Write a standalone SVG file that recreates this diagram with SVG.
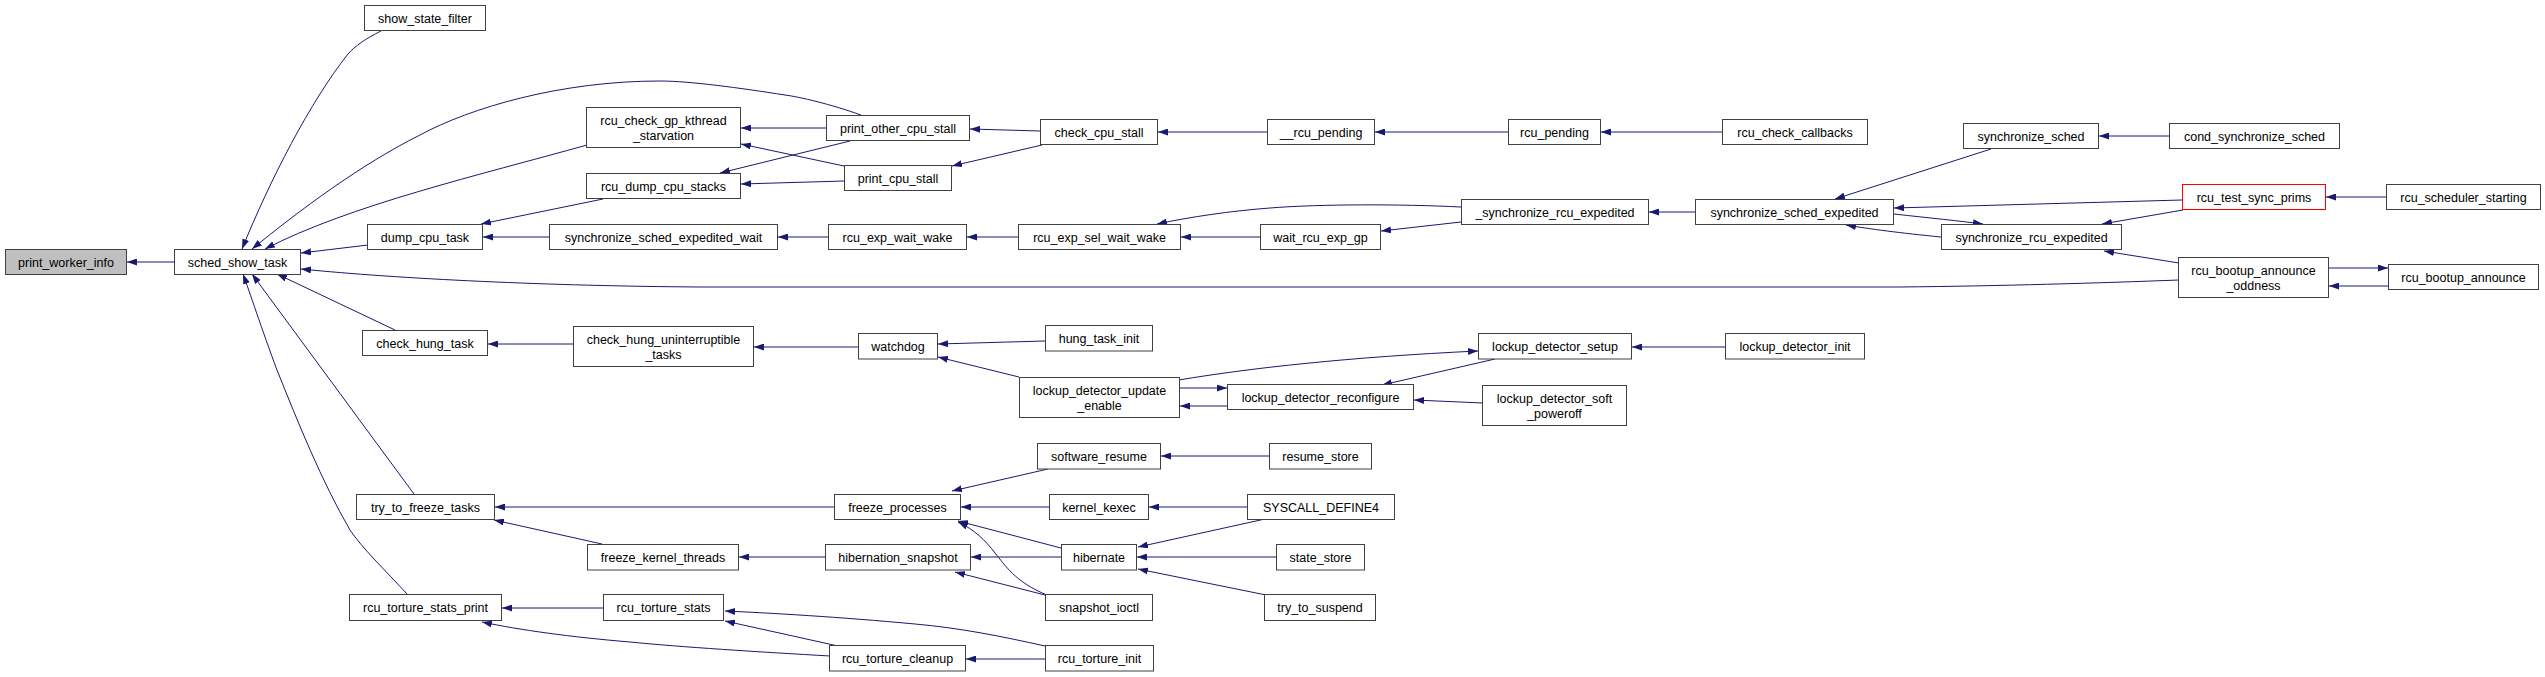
<svg xmlns="http://www.w3.org/2000/svg" width="2545" height="677" viewBox="0 0 2545 677">
<style>
.n rect{fill:#fff;stroke:#404040;stroke-width:1}
.n text{font-family:"Liberation Sans",Arial,sans-serif;font-size:12.5px;text-anchor:middle;fill:#000}
.e path{fill:none;stroke:#191970;stroke-width:1;marker-end:url(#ah)}
</style>
<defs>
<marker id="ah" markerUnits="userSpaceOnUse" viewBox="0 0 10 7" markerWidth="10" markerHeight="7" refX="10" refY="3.5" orient="auto">
<path d="M0,0 L10,3.5 L0,7 z" fill="#191970"/>
</marker>
</defs>
<rect width="2545" height="677" fill="#fff"/>
<g id="connectors" class="e">
<path d="M174,262 L127,262"/>
<path d="M381,31 C365,39 355,46 348,54 C310,102 270,180 242,249"/>
<path d="M861,115 C830,104 800,97 785,95 C740,88 690,81 660,81 C560,81 470,108 420,135 C360,165 300,210 252,249"/>
<path d="M587,145 C480,175 350,205 265,249"/>
<path d="M368,245 L301,253"/>
<path d="M2179,280 C2100,283 2000,286 1900,287 L700,287 C550,286 400,279 301,269"/>
<path d="M395,330 L277,274"/>
<path d="M414,494 L252,274"/>
<path d="M408,595 C385,570 362,548 350,530 C322,482 297,420 277,370 C262,330 249,290 243,274"/>
<path d="M603,199 L481,224"/>
<path d="M549,237 L483,237"/>
<path d="M826,128 L741,128"/>
<path d="M844,166 L741,144"/>
<path d="M850,141 L720,173"/>
<path d="M844,181 L741,184"/>
<path d="M1040,131 L970,129"/>
<path d="M1042,145 L952,166"/>
<path d="M1267,132 L1158,132"/>
<path d="M1508,132 L1375,132"/>
<path d="M1722,132 L1601,132"/>
<path d="M828,237 L778,237"/>
<path d="M1018,237 L967,237"/>
<path d="M1260,237 L1181,237"/>
<path d="M1461,207 C1400,204 1320,204 1270,208 C1230,211 1190,217 1157,224"/>
<path d="M1461,222 L1381,231"/>
<path d="M1695,212 L1649,212"/>
<path d="M1991,149 L1835,199"/>
<path d="M2182,200 L1894,208"/>
<path d="M1941,237 C1900,233 1870,229 1846,225"/>
<path d="M1894,214 C1930,218 1960,221 1983,224"/>
<path d="M2183,210 L2102,224"/>
<path d="M2179,263 L2104,251"/>
<path d="M2386,197 L2326,197"/>
<path d="M2169,136 L2099,136"/>
<path d="M2388,286 L2329,286"/>
<path d="M2329,268 L2388,268"/>
<path d="M573,344 L488,344"/>
<path d="M858,347 L754,347"/>
<path d="M1045,341 L938,344"/>
<path d="M1019,377 L938,357"/>
<path d="M1180,388 L1227,388"/>
<path d="M1227,406 L1180,406"/>
<path d="M1179,380 C1250,368 1350,357 1478,351"/>
<path d="M1495,359 L1382,385"/>
<path d="M1725,347 L1632,347"/>
<path d="M1483,403 L1414,400"/>
<path d="M835,507 L495,507"/>
<path d="M602,544 L494,520"/>
<path d="M825,557 L739,557"/>
<path d="M1048,469 L952,491"/>
<path d="M1049,507 L961,507"/>
<path d="M1061,548 L958,521"/>
<path d="M1047,595 C1015,582 1005,565 995,553 C985,540 975,530 958,522"/>
<path d="M1061,557 L971,557"/>
<path d="M1045,595 L955,572"/>
<path d="M1269,456 L1161,456"/>
<path d="M1247,507 L1149,507"/>
<path d="M1265,519 L1138,547"/>
<path d="M1276,557 L1137,557"/>
<path d="M1266,595 L1138,569"/>
<path d="M603,608 L502,608"/>
<path d="M830,656 C760,652 680,647 630,642 C570,637 520,630 482,622"/>
<path d="M838,646 L725,621"/>
<path d="M1045,646 C1000,636 960,628 915,624 C840,617 770,613 725,611"/>
<path d="M1045,659 L966,659"/>
</g>
<g id="print_worker_info" class="n"><rect x="5.5" y="249.5" width="121" height="25" style="fill:#bfbfbf"/><text x="66" y="266.5">print_worker_info</text></g>
<g id="sched_show_task" class="n"><rect x="174.5" y="249.5" width="126" height="25"/><text x="237.5" y="266.5">sched_show_task</text></g>
<g id="show_state_filter" class="n"><rect x="364.5" y="5.5" width="121" height="25"/><text x="425" y="22.5">show_state_filter</text></g>
<g id="rcu_check_gp_kthread_starvation" class="n"><rect x="586.5" y="107.5" width="154" height="40"/><text x="663.5" y="124.5">rcu_check_gp_kthread</text><text x="663.5" y="139.5">_starvation</text></g>
<g id="rcu_dump_cpu_stacks" class="n"><rect x="586.5" y="173.5" width="154" height="25"/><text x="663.5" y="190.5">rcu_dump_cpu_stacks</text></g>
<g id="dump_cpu_task" class="n"><rect x="367.5" y="224.5" width="115" height="25"/><text x="425" y="241.5">dump_cpu_task</text></g>
<g id="synchronize_sched_expedited_wait" class="n"><rect x="549.5" y="224.5" width="228" height="25"/><text x="663.5" y="241.5">synchronize_sched_expedited_wait</text></g>
<g id="print_other_cpu_stall" class="n"><rect x="826.5" y="115.5" width="143" height="25"/><text x="898" y="132.5">print_other_cpu_stall</text></g>
<g id="print_cpu_stall" class="n"><rect x="844.5" y="165.5" width="107" height="25"/><text x="898" y="182.5">print_cpu_stall</text></g>
<g id="check_cpu_stall" class="n"><rect x="1040.5" y="119.5" width="117" height="25"/><text x="1099" y="136.5">check_cpu_stall</text></g>
<g id="rcu_exp_wait_wake" class="n"><rect x="828.5" y="224.5" width="138" height="25"/><text x="897.5" y="241.5">rcu_exp_wait_wake</text></g>
<g id="rcu_exp_sel_wait_wake" class="n"><rect x="1018.5" y="224.5" width="162" height="25"/><text x="1099.5" y="241.5">rcu_exp_sel_wait_wake</text></g>
<g id="wait_rcu_exp_gp" class="n"><rect x="1260.5" y="224.5" width="120" height="25"/><text x="1320.5" y="241.5">wait_rcu_exp_gp</text></g>
<g id="__rcu_pending" class="n"><rect x="1267.5" y="119.5" width="107" height="25"/><text x="1321" y="136.5">__rcu_pending</text></g>
<g id="rcu_pending" class="n"><rect x="1508.5" y="119.5" width="92" height="25"/><text x="1554.5" y="136.5">rcu_pending</text></g>
<g id="rcu_check_callbacks" class="n"><rect x="1722.5" y="119.5" width="145" height="25"/><text x="1795" y="136.5">rcu_check_callbacks</text></g>
<g id="_synchronize_rcu_expedited" class="n"><rect x="1461.5" y="199.5" width="187" height="25"/><text x="1555" y="216.5">_synchronize_rcu_expedited</text></g>
<g id="synchronize_sched_expedited" class="n"><rect x="1695.5" y="199.5" width="198" height="25"/><text x="1794.5" y="216.5">synchronize_sched_expedited</text></g>
<g id="synchronize_sched" class="n"><rect x="1963.5" y="123.5" width="135" height="25"/><text x="2031" y="140.5">synchronize_sched</text></g>
<g id="cond_synchronize_sched" class="n"><rect x="2169.5" y="123.5" width="170" height="25"/><text x="2254.5" y="140.5">cond_synchronize_sched</text></g>
<g id="rcu_test_sync_prims" class="n"><rect x="2182.5" y="184.5" width="143" height="25" style="stroke:#ff0000"/><text x="2254" y="201.5">rcu_test_sync_prims</text></g>
<g id="rcu_scheduler_starting" class="n"><rect x="2386.5" y="184.5" width="154" height="25"/><text x="2463.5" y="201.5">rcu_scheduler_starting</text></g>
<g id="synchronize_rcu_expedited" class="n"><rect x="1941.5" y="224.5" width="180" height="25"/><text x="2031.5" y="241.5">synchronize_rcu_expedited</text></g>
<g id="rcu_bootup_announce_oddness" class="n"><rect x="2178.5" y="257.5" width="150" height="40"/><text x="2253.5" y="274.5">rcu_bootup_announce</text><text x="2253.5" y="289.5">_oddness</text></g>
<g id="rcu_bootup_announce" class="n"><rect x="2388.5" y="264.5" width="150" height="25"/><text x="2463.5" y="281.5">rcu_bootup_announce</text></g>
<g id="check_hung_task" class="n"><rect x="362.5" y="330.5" width="125" height="25"/><text x="425" y="347.5">check_hung_task</text></g>
<g id="check_hung_uninterruptible_tasks" class="n"><rect x="573.5" y="326.5" width="180" height="40"/><text x="663.5" y="343.5">check_hung_uninterruptible</text><text x="663.5" y="358.5">_tasks</text></g>
<g id="watchdog" class="n"><rect x="858.5" y="333.5" width="79" height="25.5"/><text x="898" y="350.5">watchdog</text></g>
<g id="hung_task_init" class="n"><rect x="1045.5" y="325.5" width="107" height="25.5"/><text x="1099" y="342.5">hung_task_init</text></g>
<g id="lockup_detector_update_enable" class="n"><rect x="1019.5" y="377.5" width="160" height="40"/><text x="1099.5" y="394.5">lockup_detector_update</text><text x="1099.5" y="409.5">_enable</text></g>
<g id="lockup_detector_reconfigure" class="n"><rect x="1227.5" y="384.5" width="186" height="25"/><text x="1320.5" y="401.5">lockup_detector_reconfigure</text></g>
<g id="lockup_detector_setup" class="n"><rect x="1478.5" y="333.5" width="153" height="25.5"/><text x="1555" y="350.5">lockup_detector_setup</text></g>
<g id="lockup_detector_init" class="n"><rect x="1725.5" y="333.5" width="139" height="25.5"/><text x="1795" y="350.5">lockup_detector_init</text></g>
<g id="lockup_detector_soft_poweroff" class="n"><rect x="1482.5" y="385.5" width="144" height="40"/><text x="1554.5" y="402.5">lockup_detector_soft</text><text x="1554.5" y="417.5">_poweroff</text></g>
<g id="software_resume" class="n"><rect x="1037.5" y="443.5" width="123" height="25.5"/><text x="1099" y="460.5">software_resume</text></g>
<g id="resume_store" class="n"><rect x="1269.5" y="443.5" width="102" height="25.5"/><text x="1320.5" y="460.5">resume_store</text></g>
<g id="freeze_processes" class="n"><rect x="834.5" y="494.5" width="126" height="25"/><text x="897.5" y="511.5">freeze_processes</text></g>
<g id="kernel_kexec" class="n"><rect x="1049.5" y="494.5" width="99" height="25"/><text x="1099" y="511.5">kernel_kexec</text></g>
<g id="SYSCALL_DEFINE4" class="n"><rect x="1247.5" y="494.5" width="147" height="25"/><text x="1321" y="511.5">SYSCALL_DEFINE4</text></g>
<g id="try_to_freeze_tasks" class="n"><rect x="356.5" y="494.5" width="138" height="25"/><text x="425.5" y="511.5">try_to_freeze_tasks</text></g>
<g id="freeze_kernel_threads" class="n"><rect x="587.5" y="544.5" width="151" height="25.5"/><text x="663" y="561.5">freeze_kernel_threads</text></g>
<g id="hibernation_snapshot" class="n"><rect x="825.5" y="544.5" width="145" height="25.5"/><text x="898" y="561.5">hibernation_snapshot</text></g>
<g id="hibernate" class="n"><rect x="1061.5" y="544.5" width="75" height="25.5"/><text x="1099" y="561.5">hibernate</text></g>
<g id="state_store" class="n"><rect x="1276.5" y="544.5" width="88" height="25.5"/><text x="1320.5" y="561.5">state_store</text></g>
<g id="try_to_suspend" class="n"><rect x="1264.5" y="594.5" width="111" height="26"/><text x="1320" y="612">try_to_suspend</text></g>
<g id="snapshot_ioctl" class="n"><rect x="1045.5" y="594.5" width="107" height="26"/><text x="1099" y="612">snapshot_ioctl</text></g>
<g id="rcu_torture_stats_print" class="n"><rect x="349.5" y="594.5" width="152" height="26"/><text x="425.5" y="612">rcu_torture_stats_print</text></g>
<g id="rcu_torture_stats" class="n"><rect x="603.5" y="594.5" width="120" height="26"/><text x="663.5" y="612">rcu_torture_stats</text></g>
<g id="rcu_torture_cleanup" class="n"><rect x="829.5" y="645.5" width="136" height="25.5"/><text x="897.5" y="662.5">rcu_torture_cleanup</text></g>
<g id="rcu_torture_init" class="n"><rect x="1045.5" y="645.5" width="108" height="25.5"/><text x="1099.5" y="662.5">rcu_torture_init</text></g>
</svg>
